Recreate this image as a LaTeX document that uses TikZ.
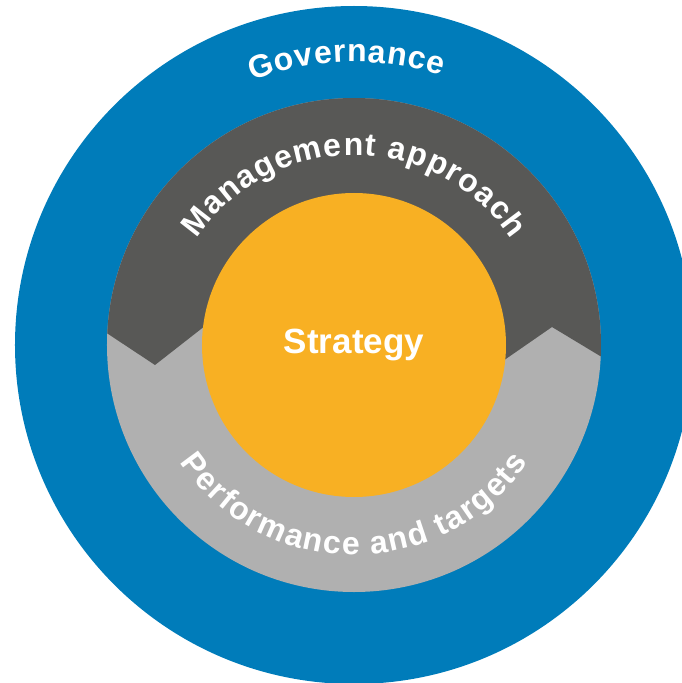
\documentclass[tikz,border=0pt]{standalone}
\usepackage{fontspec}
\setmainfont{Liberation Sans}
\usepackage{tikz}
\usetikzlibrary{decorations.text}
\definecolor{colorgov}      {RGB}{0  ,124,186}
\definecolor{colormanage}   {RGB}{88 ,88 ,86 }
\definecolor{colorperform}  {RGB}{176,176,176}
\definecolor{colorstrategy} {RGB}{248,176,35 }
\definecolor{colortext}     {RGB}{255,255,255}
\newcommand{\ringfont}{\fontsize{32}{32}\selectfont\bfseries}

\begin{document}
\begin{tikzpicture}[
    x=1pt, y=1pt,
    ringtext/.style={decorate,decoration={text along path,text color=colortext,text align=fit to path,text={#1}}},
    core/.style={circle,fill=colorstrategy,inner sep=0pt,minimum size=304pt,text=colortext,font={\fontsize{35}{35}\selectfont\bfseries}},
]
    \useasboundingbox (-354,-338) rectangle (327,345);

    % Rings
    \fill[colorgov] (0,0) circle (339pt);
    \fill[colorperform] (0,0) circle (247pt);
    \begin{scope}
        \clip (0,0) circle (247pt);
        \fill[colormanage] (-264,23) -- (-199,-20) -- (-144,23) -- (146,-18) -- (198,18) -- (266,-23) -- (266,260) -- (-264,260) -- cycle;
    \end{scope}

    % Centre
    \node[core] at (0,0) (strategy) {Strategy};

    % Ring labels
    \path[ringtext={|\ringfont|Governance}] (111:283pt) arc[start angle=111,end angle=72,radius=283pt];
    \path[ringtext={|\ringfont|Management approach}] (146:190pt) arc[start angle=146,end angle=34,radius=190pt];
    \path[ringtext={|\ringfont|Performance and targets}] (-146:210pt) arc[start angle=-146,end angle=-34,radius=210pt];

\end{tikzpicture}
\end{document}
